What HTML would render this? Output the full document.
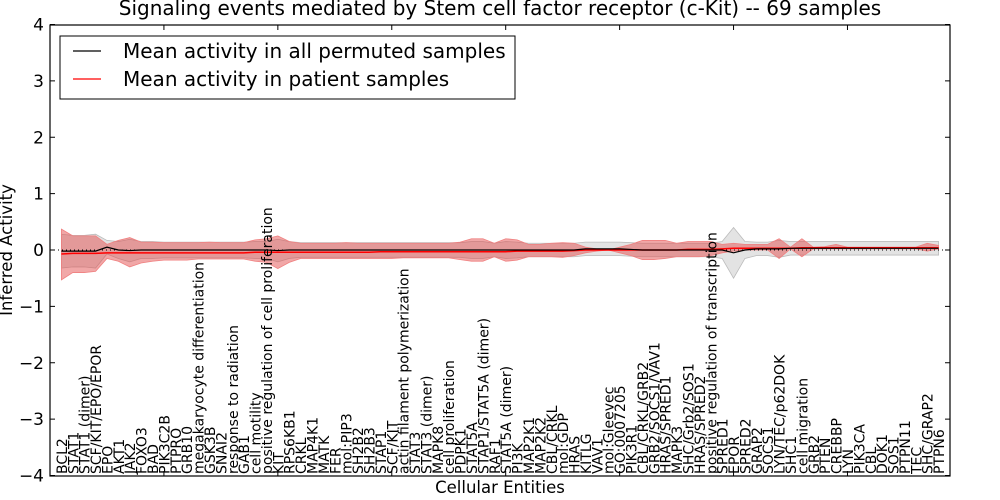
<!DOCTYPE html>
<html><head><meta charset="utf-8"><style>
body{margin:0;background:#fff;}
svg{display:block;font-family:"DejaVu Sans","Liberation Sans",sans-serif;}
</style></head><body>
<svg id="chart" width="1000" height="500" xmlns="http://www.w3.org/2000/svg">
<text x="500" y="15" text-anchor="middle" font-size="20">Signaling events mediated by Stem cell factor receptor (c-Kit) -- 69 samples</text>
<text x="500" y="493" text-anchor="middle" font-size="16.5">Cellular Entities</text>
<text transform="translate(12,250) rotate(-90)" text-anchor="middle" font-size="16.5">Inferred Activity</text>
<g id="plot"></g>
</svg>
<script>
const labels=["BCL2","STAT1","STAT1 (dimer)","SCF/KIT/EPO/EPOR","EPO","AKT1","JAK2","FOXO3","BAD","PIK3C2B","PTPRO","GRB10","megakaryocyte differentiation","GSK3B","SNAI2","response to radiation","GAB1","cell motility","positive regulation of cell proliferation","KIT","RPS6KB1","CRKL","MAP4K1","MATK","FER","mol:PIP3","SH2B2","SH2B3","STAP1","SCF/KIT","actin filament polymerization","STAT3","STAT3 (dimer)","MAPK8","cell proliferation","PDPK1","STAT5A","STAP1/STAT5A (dimer)","RAF1","STAT5A (dimer)","PI3K","MAP2K1","MAP2K2","CBL/CRKL","mol:GDP","HRAS","KITLG","VAV1","mol:Gleevec","GO:0007205","PIK3R1","CBL/CRKL/GRB2","GRB2/SOCS1/VAV1","HRAS/SPRED1","MAPK3","SHC/Grb2/SOS1","HRAS/SPRED2","positive regulation of transcription","SPRED1","EPOR","SPRED2","GRAP2","SOCS1","LYN/TEC/p62DOK","SHC1","cell migration","GRB2","PTEN","CREBBP","LYN","PIK3CA","CBL","DOK1","SOS1","PTPN11","TEC","SHC/GRAP2","PTPN6"];
const redUpper=[0.37,0.25,0.25,0.25,0.10,0.17,0.22,0.14,0.14,0.13,0.13,0.13,0.13,0.14,0.13,0.13,0.13,0.18,0.20,0.25,0.15,0.12,0.12,0.12,0.12,0.13,0.12,0.12,0.12,0.12,0.12,0.12,0.12,0.12,0.12,0.14,0.20,0.20,0.12,0.20,0.18,0.10,0.10,0.12,0.13,0.12,0.05,0.02,0.0,0.05,0.10,0.17,0.17,0.17,0.12,0.15,0.15,0.15,0.10,0.12,0.10,0.10,0.10,0.20,0.05,0.20,0.05,0.06,0.10,0.05,0.05,0.05,0.05,0.05,0.05,0.05,0.12,0.08];
const redLower=[-0.53,-0.40,-0.40,-0.38,-0.15,-0.20,-0.30,-0.23,-0.20,-0.18,-0.18,-0.18,-0.16,-0.16,-0.16,-0.16,-0.16,-0.20,-0.22,-0.33,-0.22,-0.15,-0.15,-0.15,-0.15,-0.15,-0.15,-0.15,-0.15,-0.15,-0.14,-0.14,-0.14,-0.14,-0.14,-0.17,-0.20,-0.20,-0.12,-0.20,-0.18,-0.12,-0.12,-0.12,-0.13,-0.10,-0.05,-0.02,0.0,-0.05,-0.10,-0.17,-0.17,-0.15,-0.12,-0.12,-0.12,-0.10,-0.05,-0.02,0.0,0.0,0.0,-0.15,0.02,-0.12,0.02,0.02,0.02,0.02,0.02,0.02,0.02,0.02,0.02,0.02,-0.02,0.02];
const redMean=[-0.07,-0.06,-0.06,-0.06,-0.05,-0.05,-0.05,-0.05,-0.05,-0.05,-0.05,-0.05,-0.05,-0.05,-0.05,-0.05,-0.05,-0.04,-0.04,-0.04,-0.04,-0.04,-0.04,-0.04,-0.04,-0.04,-0.04,-0.04,-0.03,-0.03,-0.03,-0.03,-0.03,-0.03,-0.03,-0.03,-0.03,-0.03,-0.03,-0.03,-0.02,-0.02,-0.02,-0.02,-0.02,-0.01,0.0,0.0,0.0,0.0,0.0,0.0,0.0,0.0,0.0,0.01,0.01,0.01,0.02,0.03,0.03,0.03,0.03,0.03,0.03,0.04,0.04,0.04,0.04,0.04,0.04,0.04,0.04,0.04,0.04,0.04,0.04,0.04];
const permMean=[-0.02,-0.02,-0.02,-0.02,0.05,0.0,-0.01,0.0,0.0,0.0,0.0,0.0,0.0,0.0,0.0,0.0,0.0,0.0,0.0,-0.01,0.0,0.0,0.0,0.0,0.0,0.0,0.0,0.0,0.0,0.0,0.0,0.0,0.0,0.0,0.0,0.0,0.0,0.0,0.0,0.0,0.0,0.0,0.0,0.0,0.0,0.0,0.02,0.02,0.02,0.02,0.01,0.0,0.0,0.0,0.0,0.0,0.0,0.0,0.0,-0.05,0.0,0.02,0.02,0.02,0.03,0.03,0.03,0.03,0.03,0.03,0.03,0.03,0.03,0.03,0.03,0.03,0.03,0.03];
const permHalf=[0.3,0.28,0.28,0.3,0.12,0.15,0.2,0.15,0.15,0.14,0.14,0.14,0.14,0.14,0.14,0.14,0.14,0.15,0.15,0.2,0.15,0.13,0.13,0.13,0.13,0.13,0.13,0.13,0.13,0.13,0.13,0.13,0.13,0.13,0.13,0.13,0.15,0.15,0.12,0.15,0.14,0.12,0.12,0.12,0.12,0.12,0.12,0.12,0.12,0.12,0.12,0.12,0.12,0.12,0.12,0.12,0.12,0.12,0.15,0.45,0.15,0.12,0.12,0.15,0.12,0.12,0.12,0.12,0.12,0.12,0.12,0.12,0.12,0.12,0.12,0.12,0.12,0.12];
const yTicks=[-4,-3,-2,-1,0,1,2,3,4];
const xTicks=[0,10,20,30,40,50,60,70];

const L=50,R=950,T=25,B=476,XMAX=79;
const X=v=>L+(v)/XMAX*(R-L);
const Y=v=>250-v*(B-T)/8;
const g=document.getElementById('plot');
const NS='http://www.w3.org/2000/svg';
function mk(tag,attrs){const e=document.createElementNS(NS,tag);for(const k in attrs)e.setAttribute(k,attrs[k]);g.appendChild(e);return e;}
function band(up,lo){let d='';up.forEach((v,i)=>{d+=(i?'L':'M')+X(i+1)+','+Y(v);});for(let i=lo.length-1;i>=0;i--)d+='L'+X(i+1)+','+Y(lo[i]);return d+'Z';}
const gb=mk('path',{d:band(permMean.map((m,i)=>m+permHalf[i]),permMean.map((m,i)=>m-permHalf[i])),fill:'#d0d0d0','fill-opacity':'0.6',stroke:'#bbb','stroke-width':'0.8'});


const rb=mk('path',{d:band(redUpper,redLower),fill:'#e35050','fill-opacity':'0.5',stroke:'#f08080','stroke-width':'0.8'});


const zl=mk('line',{x1:L,x2:R,y1:Y(0),y2:Y(0),stroke:'#000','stroke-dasharray':'1,3','stroke-width':'1'});


const rl=mk('polyline',{points:redMean.map((v,i)=>X(i+1)+','+Y(v)).join(' '),fill:'none',stroke:'#f00','stroke-width':'1.5'});


const bl=mk('polyline',{points:permMean.map((v,i)=>X(i+1)+','+Y(v)).join(' '),fill:'none',stroke:'#000','stroke-width':'1.2'});


yTicks.forEach(v=>{
 mk('line',{x1:L,x2:L+5,y1:Y(v),y2:Y(v),stroke:'#000'});
 mk('line',{x1:R-5,x2:R,y1:Y(v),y2:Y(v),stroke:'#000'});
 const t=mk('text',{x:L-6,y:Y(v)+6,'text-anchor':'end','font-size':'17'});
 t.textContent=(v<0?'\u2212'+(-v):v);
 
 
});
xTicks.forEach(v=>{
 mk('line',{x1:X(v),x2:X(v),y1:T,y2:T+5,stroke:'#000'});
 mk('line',{x1:X(v),x2:X(v),y1:B-5,y2:B,stroke:'#000'});
});
labels.forEach((s,i)=>{
 const x=X(i+1)+5.5;
 const t=mk('text',{transform:'translate('+x+','+(B-2)+') rotate(-90)','font-size':'14'});
 t.textContent=s;
 
 
});
const fr=mk('rect',{x:L,y:T,width:R-L,height:B-T,fill:'none',stroke:'#000','stroke-width':'1.2'});


const lg=mk('rect',{x:60,y:36,width:455,height:63,fill:'#fff',stroke:'#000'});


mk('line',{x1:73,x2:101,y1:51,y2:51,stroke:'#000','stroke-width':'1.2'});
mk('line',{x1:73,x2:101,y1:79,y2:79,stroke:'#f00','stroke-width':'1.2'});
const l1=mk('text',{x:123,y:58,'font-size':'20'});l1.textContent='Mean activity in all permuted samples';


const l2=mk('text',{x:123,y:86,'font-size':'20'});l2.textContent='Mean activity in patient samples';


</script>
</body></html>
